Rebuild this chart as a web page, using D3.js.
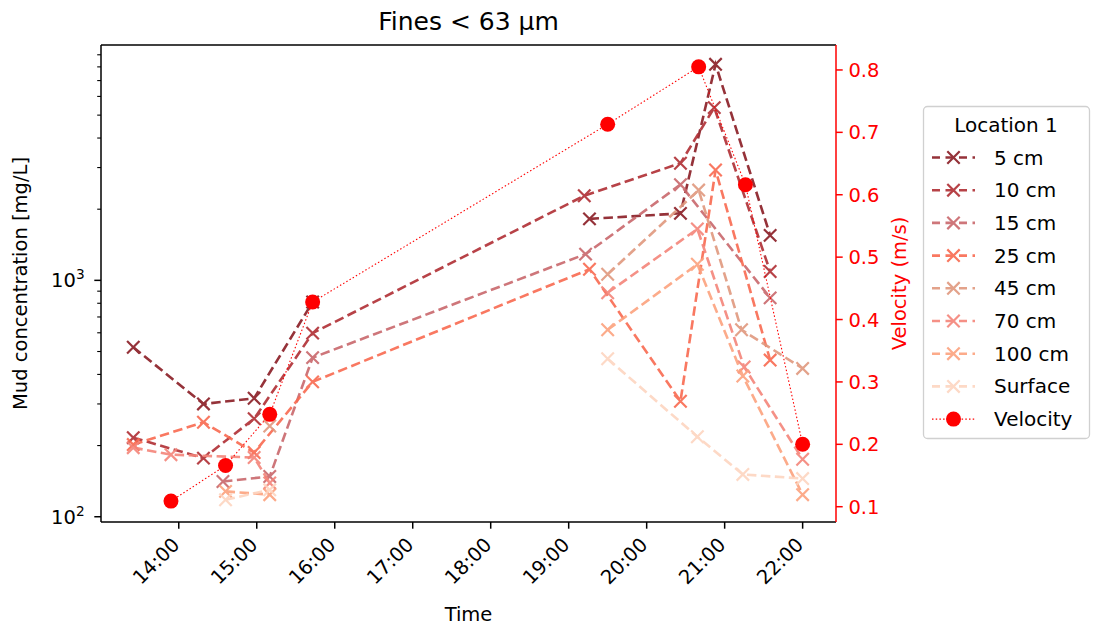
<!DOCTYPE html>
<html>
<head>
<meta charset="utf-8">
<script src="https://cdn.jsdelivr.net/npm/d3@7"></script>
<style>
  html, body { margin: 0; padding: 0; background: #fff; }
  svg { display: block; font-family: "DejaVu Sans", sans-serif; }
</style>
</head>
<body>
<svg id="chart" width="1097" height="629"></svg>
<script>
// ---------------- DATA ----------------
const seriesNames = ["5 cm", "10 cm", "15 cm", "25 cm", "45 cm", "70 cm", "100 cm", "Surface"];

const times5   = ["13:25", "14:19", "14:58", "15:43", null, "19:16", "20:26", "20:53", "21:35"];
const conc5    = [521, 300, 317, 810, null, 1820, 1920, 8200, 1550];

const times10  = ["13:25", "14:19", "14:58", "15:43", "19:12", "20:26", "20:52", "21:35"];
const conc10   = [216, 177, 260, 598, 2280, 3130, 5380, 1090];

const times15  = ["14:34", "15:10", "15:43", "19:13", "20:26", "21:35"];
const conc15   = [141, 148, 471, 1291, 2540, 843];

const times25  = ["13:25", "14:19", "14:58", "15:43", "19:16", "20:26", "20:53", "21:35"];
const conc25   = [202, 251, 187, 372, 1114, 308, 2930, 460];

const times45  = ["15:10", null, "19:30", "20:40", "21:13", "22:00"];
const conc45   = [242, null, 1061, 2410, 618, 424];

const times70  = ["13:25", "13:54", "14:58", "15:10", null, "19:30", "20:39", "21:15", "22:00"];
const conc70   = [196, 183, 178, 139, null, 886, 1650, 430, 175];

const times100 = ["14:36", "15:10", null, "19:30", "20:39", "21:14", "22:00"];
const conc100  = [128, 124, null, 618, 1170, 394, 124];

const timesSurf = ["14:36", "15:10", null, "19:30", "20:39", "21:14", "22:00"];
const concSurf  = [118, 130, null, 466, 218, 151, 145];

const velTimes  = ["13:54", "14:36", "15:10", "15:43", "19:30", "20:40", "21:16", "22:00"];
const velValues = [0.109, 0.166, 0.248, 0.428, 0.713, 0.805, 0.616, 0.200];

const xTickLabels = ["14:00", "15:00", "16:00", "17:00", "18:00", "19:00", "20:00", "21:00", "22:00"];
const yMajorTicks = [100, 1000];
const yMinorTicks = [200, 300, 400, 500, 600, 700, 800, 900, 2000, 3000, 4000, 5000, 6000, 7000, 8000, 9000];
const velTicks = [0.1, 0.2, 0.3, 0.4, 0.5, 0.6, 0.7, 0.8];

// ---------------- STYLE ----------------
const seriesColors = ["#8a1c24", "#b02e34", "#c9686c", "#f96a50", "#e0987e", "#f4857a", "#fca27e", "#fdd5c0"];
const velColor = "#ff0000";

const W = 1097, H = 629;
const M = { left: 101, right: 836, top: 45, bottom: 522 };
const FS = 19.5;
const LW = 2.6, DASH = "9.5,4.5", MS = 6.2, MW = 2.2;

const parse = d3.timeParse("%H:%M");
const parseS = d3.timeParse("%H:%M:%S");

const x = d3.scaleTime()
  .domain([parseS("13:00:10"), parseS("22:25:40")])
  .range([M.left, M.right]);
const y = d3.scaleLog().domain([95, 9900]).range([M.bottom, M.top]);
const yv = d3.scaleLinear().domain([0.0755, 0.840]).range([M.bottom, M.top]);

const svg = d3.select("#chart");
svg.append("rect").attr("width", W).attr("height", H).attr("fill", "#fff");

const series = [
  [times5, conc5], [times10, conc10], [times15, conc15], [times25, conc25],
  [times45, conc45], [times70, conc70], [times100, conc100], [timesSurf, concSurf]
].map(([t, v], i) => ({
  name: seriesNames[i],
  color: seriesColors[i],
  pts: t.map((tt, j) => ({ t: tt ? parse(tt) : null, v: v[j] }))
}));

const plot = svg.append("g");
const line = d3.line()
  .defined(d => d.t !== null && d.v !== null)
  .x(d => x(d.t)).y(d => y(d.v));

function xMarker(g, cx, cy, color, s) {
  g.append("path")
    .attr("d", `M${cx - s},${cy - s}L${cx + s},${cy + s}M${cx - s},${cy + s}L${cx + s},${cy - s}`)
    .attr("stroke", color).attr("stroke-width", MW).attr("fill", "none");
}

series.forEach(s => {
  const g = plot.append("g").attr("opacity", 0.9);
  g.append("path").datum(s.pts).attr("d", line)
    .attr("fill", "none").attr("stroke", s.color).attr("stroke-width", LW)
    .attr("stroke-dasharray", DASH);
  s.pts.filter(d => d.t !== null && d.v !== null).forEach(d => xMarker(g, x(d.t), y(d.v), s.color, MS));
});

// velocity (twin axis)
const vel = velTimes.map((t, i) => ({ t: parse(t), v: velValues[i] }));
const vline = d3.line().x(d => x(d.t)).y(d => yv(d.v));
plot.append("path").datum(vel).attr("d", vline)
  .attr("fill", "none").attr("stroke", velColor).attr("stroke-width", 1.1)
  .attr("stroke-dasharray", "1.5,2.2");
plot.selectAll("circle.vel").data(vel).enter().append("circle")
  .attr("cx", d => x(d.t)).attr("cy", d => yv(d.v)).attr("r", 7.5).attr("fill", velColor);

// ---------------- AXES ----------------
const tickLen = 6.7, pad = 6.7;
const ax = svg.append("g");

// bottom axis
const xt = xTickLabels.map(s => parse(s));
xt.forEach((d, i) => {
  const tx = x(d);
  ax.append("line").attr("x1", tx).attr("x2", tx).attr("y1", M.bottom).attr("y2", M.bottom + tickLen)
    .attr("stroke", "#000").attr("stroke-width", 1.5);
  const a = 0.76 * FS;
  const axp = tx + 2, ayp = M.bottom + tickLen + pad + 0.707 * a;
  ax.append("text").text(xTickLabels[i])
    .attr("transform", `translate(${axp},${ayp}) rotate(-45)`)
    .attr("text-anchor", "end").attr("font-size", FS).attr("fill", "#000");
});
ax.append("text").text("Time").attr("x", (M.left + M.right) / 2).attr("y", 621)
  .attr("text-anchor", "middle").attr("font-size", FS).attr("fill", "#000");

// left axis
yMinorTicks.forEach(v => {
  ax.append("line").attr("x1", M.left).attr("x2", M.left - 3.8).attr("y1", y(v)).attr("y2", y(v))
    .attr("stroke", "#000").attr("stroke-width", 1.1);
});
yMajorTicks.forEach(v => {
  const ty = y(v);
  ax.append("line").attr("x1", M.left).attr("x2", M.left - tickLen).attr("y1", ty).attr("y2", ty)
    .attr("stroke", "#000").attr("stroke-width", 1.5);
  const t = ax.append("text").attr("x", M.left - tickLen - pad - 3).attr("y", ty + 7)
    .attr("text-anchor", "end").attr("font-size", FS).attr("fill", "#000");
  t.append("tspan").text("10");
  t.append("tspan").text(String(Math.round(Math.log10(v)))).attr("font-size", FS * 0.7).attr("dy", -8);
});
ax.append("text").text("Mud concentration [mg/L]")
  .attr("transform", `translate(27,${(M.top + M.bottom) / 2}) rotate(-90)`)
  .attr("text-anchor", "middle").attr("font-size", FS).attr("fill", "#000");

// right axis
velTicks.forEach(v => {
  const ty = yv(v);
  ax.append("line").attr("x1", M.right).attr("x2", M.right + tickLen).attr("y1", ty).attr("y2", ty)
    .attr("stroke", velColor).attr("stroke-width", 1.5);
  ax.append("text").text(d3.format(".1f")(v)).attr("x", M.right + tickLen + pad - 1).attr("y", ty + 7)
    .attr("font-size", FS).attr("fill", velColor);
});
ax.append("text").text("Velocity (m/s)")
  .attr("transform", `translate(906,${(M.top + M.bottom) / 2}) rotate(-90)`)
  .attr("text-anchor", "middle").attr("font-size", FS).attr("fill", velColor);

// spines
ax.append("line").attr("x1", M.left).attr("x2", M.right).attr("y1", M.top).attr("y2", M.top).attr("stroke", "#000").attr("stroke-width", 1.5);
ax.append("line").attr("x1", M.left).attr("x2", M.right).attr("y1", M.bottom).attr("y2", M.bottom).attr("stroke", "#000").attr("stroke-width", 1.5);
ax.append("line").attr("x1", M.left).attr("x2", M.left).attr("y1", M.top).attr("y2", M.bottom).attr("stroke", "#000").attr("stroke-width", 1.5);
ax.append("line").attr("x1", M.right).attr("x2", M.right).attr("y1", M.top).attr("y2", M.bottom).attr("stroke", velColor).attr("stroke-width", 1.5);

// title
svg.append("text").text("Fines < 63 µm").attr("x", (M.left + M.right) / 2).attr("y", 30)
  .attr("text-anchor", "middle").attr("font-size", 25).attr("fill", "#000");

// ---------------- LEGEND ----------------
const lg = svg.append("g");
lg.append("rect").attr("x", 923.5).attr("y", 106.5).attr("width", 166).attr("height", 332)
  .attr("rx", 4).attr("fill", "#fff").attr("fill-opacity", 0.8).attr("stroke", "#d0d0d0").attr("stroke-width", 1.3);
lg.append("text").text("Location 1").attr("x", 1006).attr("y", 125).attr("dominant-baseline", "central")
  .attr("text-anchor", "middle").attr("font-size", FS + 0.5).attr("fill", "#000");
const legY0 = 157.5, legDy = 32.7;
series.forEach((s, i) => {
  const ly = legY0 + i * legDy;
  const g = lg.append("g").attr("opacity", 0.9);
  g.append("line").attr("x1", 932).attr("x2", 975).attr("y1", ly).attr("y2", ly)
    .attr("stroke", s.color).attr("stroke-width", LW).attr("stroke-dasharray", "8,5.5")
    .attr("stroke-dashoffset", 0);
  xMarker(g, 953.5, ly, s.color, MS);
  lg.append("text").text(s.name).attr("x", 994).attr("y", ly).attr("dominant-baseline", "central")
    .attr("font-size", FS + 0.5).attr("fill", "#000");
});
{
  const ly = legY0 + 8 * legDy;
  lg.append("line").attr("x1", 932).attr("x2", 975).attr("y1", ly).attr("y2", ly)
    .attr("stroke", velColor).attr("stroke-width", 1.1).attr("stroke-dasharray", "1.5,2.2");
  lg.append("circle").attr("cx", 953.5).attr("cy", ly).attr("r", 7.5).attr("fill", velColor);
  lg.append("text").text("Velocity").attr("x", 994).attr("y", ly).attr("dominant-baseline", "central")
    .attr("font-size", FS + 0.5).attr("fill", "#000");
}
</script>
</body>
</html>
